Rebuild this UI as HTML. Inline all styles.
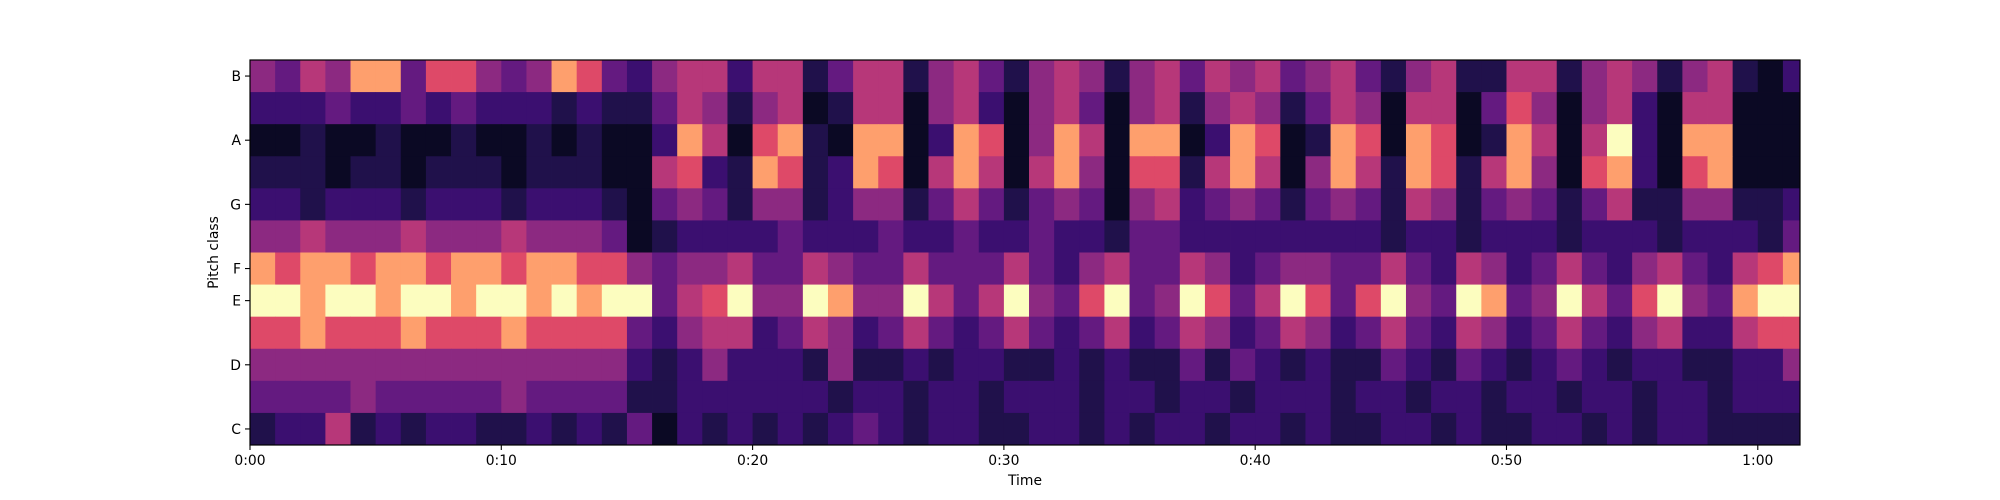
<!DOCTYPE html>
<html><head><meta charset="utf-8"><style>
html,body{margin:0;padding:0;background:#fff;}
svg{display:block;font-family:"DejaVu Sans","Liberation Sans",sans-serif;}
</style></head><body>
<svg id="chart" width="2000" height="500" viewBox="0 0 2000 500" xmlns="http://www.w3.org/2000/svg">
<rect width="2000" height="500" fill="#fff"/>
<g id="cells"></g>
<rect x="250" y="60" width="1550" height="385" fill="none" stroke="#000" stroke-width="1.2"/>
<g id="xaxis"></g>
<g id="yaxis"></g>
<text x="1025" y="485" font-size="13.9" text-anchor="middle">Time</text>
<text x="218" y="252.5" font-size="13.9" text-anchor="middle" transform="rotate(-90 218 252.5)">Pitch class</text>
</svg>
<script>
// pitch classes top to bottom
const pitchClasses = ["B","A#","A","G#","G","F#","F","E","D#","D","C#","C"];
const duration = 61.68;
const frameSec = 1;
// chroma intensity per second (0-9), rows top (B) to bottom (C)
const rowB  = [5,4,6,5,8,8,4,7,7,5,4,5,8,7,4,3, 5,6,6,3,6,6,2,4,6,6,2,5,6,4,2,5,6,5,2,5,6,4,6,5,6,4,5,6,4,2,5,6,2,2,6,6,2,5,6,5,2,5,6,2,1,3];
const rowAs = [3,3,3,4,3,3,4,3,4,3,3,3,2,3,2,2, 4,6,5,2,5,6,1,2,6,6,1,5,6,3,1,5,6,4,1,5,6,2,5,6,5,2,4,6,5,1,6,6,1,4,7,5,1,5,6,3,1,6,6,1,1,1];
const rowA  = [1,1,2,1,1,2,1,1,2,1,1,2,1,2,1,1, 3,8,6,1,7,8,2,1,8,8,1,3,8,7,1,5,8,6,1,8,8,1,3,8,7,1,2,8,7,1,8,7,1,2,8,6,1,6,9,3,1,8,8,1,1,1];
const rowGs = [2,2,2,1,2,2,1,2,2,2,1,2,2,2,1,1, 6,7,3,2,8,7,2,3,8,7,1,6,8,6,1,6,8,5,1,7,7,2,6,8,6,1,5,8,6,2,8,7,2,6,8,5,1,7,8,3,1,7,8,1,1,1];
const rowG  = [3,3,2,3,3,3,2,3,3,3,2,3,3,3,2,1, 4,5,4,2,5,5,2,3,5,5,2,4,6,4,2,4,5,4,1,5,6,3,4,5,4,2,4,5,4,2,6,5,2,4,5,4,2,4,6,2,2,5,5,2,2,3];
const rowFs = [5,5,6,5,5,5,6,5,5,5,6,5,5,5,4,1, 2,3,3,3,3,4,3,3,3,4,3,3,4,3,3,4,3,3,2,4,4,3,3,3,3,3,3,3,3,2,3,3,2,3,3,3,2,3,3,3,2,3,3,3,2,4];
const rowF  = [8,7,8,8,7,8,8,7,8,8,7,8,8,7,7,5, 4,5,5,6,4,4,6,5,4,4,6,4,4,4,6,4,3,5,6,4,4,6,5,3,4,5,5,4,4,6,4,3,6,5,3,4,6,4,3,5,6,4,3,6,7,8];
const rowE  = [9,9,8,9,9,8,9,9,8,9,9,8,9,8,9,9, 4,6,7,9,5,5,9,8,5,5,9,6,4,6,9,5,4,7,9,4,5,9,7,4,6,9,7,4,7,9,5,4,9,8,4,5,9,6,4,7,9,5,4,8,9,9];
const rowDs = [7,7,8,7,7,7,8,7,7,7,8,7,7,7,7,4, 3,5,6,6,3,4,6,5,3,4,6,4,3,4,6,4,3,4,6,3,4,6,5,3,4,6,5,3,4,6,4,3,6,5,3,4,6,4,3,5,6,3,3,6,7,7];
const rowD  = [5,5,5,5,5,5,5,5,5,5,5,5,5,5,5,3, 2,3,5,3,3,3,2,5,2,2,3,2,3,3,2,2,3,2,3,2,2,4,2,4,3,2,3,2,2,4,3,2,4,3,2,3,4,3,2,3,3,2,2,3,3,5];
const rowCs = [4,4,4,4,5,4,4,4,4,4,5,4,4,4,4,2, 2,3,3,3,3,3,3,2,3,3,2,3,3,2,3,3,3,2,3,3,2,3,3,2,3,3,3,2,3,3,2,3,3,2,3,3,2,3,3,2,3,3,2,3,3,3];
const rowC  = [2,3,3,6,2,3,2,3,3,2,2,3,2,3,2,4, 1,3,2,3,2,3,2,3,4,3,2,3,3,2,2,3,3,2,3,2,3,3,2,3,3,2,3,2,2,3,3,2,3,2,2,3,3,2,3,2,3,3,2,2,2,2];
const rows = [rowB,rowAs,rowA,rowGs,rowG,rowFs,rowF,rowE,rowDs,rowD,rowCs,rowC];
const yTickLabels = ["C","D","E","F","G","A","B"];
const yTickIdx = [11,9,7,6,4,2,0];
const xTickSecs = [0,10,20,30,40,50,60];
const xTickLabels = ["0:00","0:10","0:20","0:30","0:40","0:50","1:00"];

const L=250,R=1800,T=60,B=445;
const xs = t => L + Math.min(t,duration)*(R-L)/duration;
const rowH = (B-T)/pitchClasses.length;
const ys = i => T + i*rowH;
const magma = ["#000004","#0b0924","#20114b","#3b0f70","#641a80","#8c2981","#b73779","#de4968","#fe9f6d","#fcfdbf"];
const NS="http://www.w3.org/2000/svg";
const cells=document.getElementById('cells');
rows.forEach((vals,ri)=>{
  vals.forEach((v,fi)=>{
    const x0=xs(fi*frameSec), x1=xs((fi+1)*frameSec);
    if(x1<=x0) return;
    const r=document.createElementNS(NS,'rect');
    r.setAttribute('x',x0.toFixed(2));
    r.setAttribute('y',ys(ri).toFixed(2));
    r.setAttribute('width',(x1-x0+0.4).toFixed(2));
    r.setAttribute('height',(rowH+0.4).toFixed(2));
    r.setAttribute('fill',magma[Math.max(0,Math.min(9,v))]);
    
    
    cells.appendChild(r);
  });
});
const xa=document.getElementById('xaxis');
xTickSecs.forEach((s,i)=>{
  const x=xs(s);
  const ln=document.createElementNS(NS,'line');
  ln.setAttribute('x1',x);ln.setAttribute('x2',x);ln.setAttribute('y1',B);ln.setAttribute('y2',B+5);
  ln.setAttribute('stroke','#000');ln.setAttribute('stroke-width','1.1');
  
  
  xa.appendChild(ln);
  const tx=document.createElementNS(NS,'text');
  tx.setAttribute('x',x);tx.setAttribute('y',B+20);tx.setAttribute('font-size','13.9');tx.setAttribute('text-anchor','middle');
  tx.textContent=xTickLabels[i];
  
  
  xa.appendChild(tx);
});
const ya=document.getElementById('yaxis');
yTickIdx.forEach((ri,i)=>{
  const y=ys(ri)+rowH/2;
  const ln=document.createElementNS(NS,'line');
  ln.setAttribute('x1',L-5);ln.setAttribute('x2',L);ln.setAttribute('y1',y);ln.setAttribute('y2',y);
  ln.setAttribute('stroke','#000');ln.setAttribute('stroke-width','1.1');
  
  
  ya.appendChild(ln);
  const tx=document.createElementNS(NS,'text');
  tx.setAttribute('x',L-9);tx.setAttribute('y',y+5);tx.setAttribute('font-size','13.9');tx.setAttribute('text-anchor','end');
  tx.textContent=yTickLabels[i];
  
  
  ya.appendChild(tx);
});
</script>
</body></html>
